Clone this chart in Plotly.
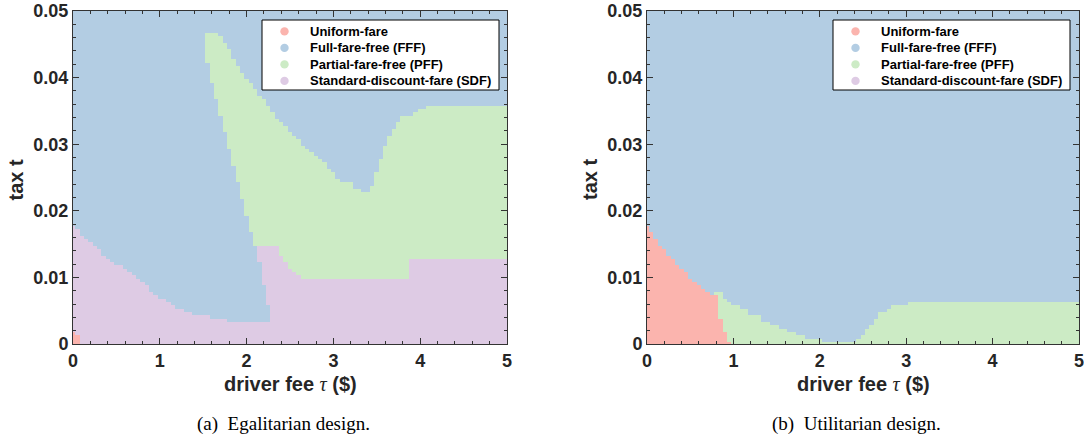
import numpy as np
import plotly.graph_objects as go

# ---------------- data ----------------
CATEGORIES = ["Uniform-fare", "Full-fare-free (FFF)",
              "Partial-fare-free (PFF)", "Standard-discount-fare (SDF)"]
COLORS = ["#FBB4AE", "#B3CDE3", "#CCEBC5", "#DECBE4"]   # UF, FFF, PFF, SDF
CAT_ID = {"UF": 0, "FFF": 1, "PFF": 2, "SDF": 3}

TAU = np.round(np.arange(0, 5.0001, 0.05), 2)       # driver fee grid
TAX = np.round(np.arange(0, 0.05001, 0.0005), 4)    # tax grid

X_TICKS = [0, 1, 2, 3, 4, 5]
X_TICK_TEXT = ["0", "1", "2", "3", "4", "5"]
Y_TICKS = [0, 0.01, 0.02, 0.03, 0.04, 0.05]
Y_TICK_TEXT = ["0", "0.01", "0.02", "0.03", "0.04", "0.05"]

# (a) Egalitarian design: step boundaries (start of fee column, tax level)
EG_UF_X = [0.00, 0.05, 0.10]
EG_UF_Y = [0.0016, 0.0011, 0.0]

EG_SDF_LOW_X = [0.00, 0.05, 0.10, 0.15, 0.20, 0.25, 0.30, 0.35, 0.40, 0.45,
                0.50, 0.60, 0.65, 0.70, 0.75, 0.80, 0.85, 0.90, 0.95, 1.00,
                1.05, 1.10, 1.15, 1.20, 1.30, 1.40, 1.50, 1.60, 1.80, 2.30]
EG_SDF_LOW_Y = [0.0178, 0.0172, 0.0165, 0.0156, 0.0152, 0.0148, 0.0142, 0.0132,
                0.0127, 0.0123, 0.0117, 0.0111, 0.0107, 0.0101, 0.0096, 0.0091,
                0.0086, 0.0080, 0.0075, 0.0070, 0.0066, 0.0061, 0.0056, 0.0052,
                0.0048, 0.0045, 0.0041, 0.0036, 0.0031, 0.0]

EG_FFF_LOW_X = [0.00, 1.55, 1.60, 1.65, 1.70, 1.75, 1.80, 1.85, 1.90, 1.95,
                2.00, 2.05, 2.10, 2.15, 2.20, 2.25, 2.30]
EG_FFF_LOW_Y = [0.0, 0.0423, 0.0393, 0.0367, 0.0342, 0.0317, 0.0292, 0.0267,
                0.0241, 0.0216, 0.0191, 0.0170, 0.0146, 0.0121, 0.0088, 0.0056, 0.0]

EG_SDF_UP_X = [0.00, 2.15, 2.40, 2.45, 2.50, 2.55, 2.60, 2.65, 3.90]
EG_SDF_UP_Y = [0.0, 0.0147, 0.0131, 0.0123, 0.0115, 0.0108, 0.0102, 0.0096, 0.0126]

EG_PFF_TOP_X = [0.00, 1.55, 1.70, 1.75, 1.80, 1.85, 1.90, 1.95, 2.00, 2.05,
                2.10, 2.15, 2.20, 2.25, 2.30, 2.35, 2.40, 2.45, 2.50, 2.55,
                2.60, 2.65, 2.70, 2.75, 2.80, 2.85, 2.90, 2.95, 3.00, 3.05,
                3.10, 3.15, 3.25, 3.35, 3.45, 3.50, 3.55, 3.60, 3.65, 3.70,
                3.75, 3.80, 3.85, 3.95, 4.00, 4.10]
EG_PFF_TOP_Y = [0.0, 0.0466, 0.0461, 0.0452, 0.0441, 0.0427, 0.0417, 0.0407,
                0.0400, 0.0392, 0.0382, 0.0371, 0.0366, 0.0357, 0.0346, 0.0340,
                0.0333, 0.0326, 0.0320, 0.0313, 0.0307, 0.0300, 0.0295, 0.0288,
                0.0281, 0.0277, 0.0271, 0.0263, 0.0258, 0.0250, 0.0245, 0.0241,
                0.0231, 0.0226, 0.0238, 0.0257, 0.0277, 0.0298, 0.0313, 0.0323,
                0.0333, 0.0341, 0.0343, 0.0348, 0.0352, 0.0356]

# (b) Utilitarian design
UT_UF_X = [0.00, 0.05, 0.10, 0.15, 0.20, 0.25, 0.30, 0.35, 0.40, 0.45, 0.50,
           0.55, 0.60, 0.65, 0.70, 0.75, 0.80, 0.85, 0.90, 0.95, 1.00]
UT_UF_Y = [0.0176, 0.0170, 0.0160, 0.0150, 0.0145, 0.0135, 0.0130, 0.0120,
           0.0115, 0.0110, 0.0100, 0.0095, 0.0090, 0.0085, 0.0080, 0.0075,
           0.0071, 0.0040, 0.0020, 0.0005, 0.0]

UT_PFF_TOP_X = [0.00, 0.80, 0.90, 0.95, 1.00, 1.05, 1.10, 1.20, 1.30, 1.35,
                1.45, 1.55, 1.65, 1.75, 1.85, 2.05, 2.45, 2.50, 2.55, 2.60,
                2.65, 2.70, 2.75, 2.80, 2.85, 3.05]
UT_PFF_TOP_Y = [0.0, 0.0076, 0.0070, 0.0065, 0.0060, 0.0056, 0.0051, 0.0045,
                0.0041, 0.0033, 0.0026, 0.00225, 0.0016, 0.0011, 0.0006, 0.0003,
                0.0008, 0.0015, 0.0022, 0.0030, 0.0040, 0.0046, 0.0050, 0.0052,
                0.0056, 0.0061]


def step(xs, ys, x):
    idx = np.searchsorted(np.asarray(xs), x + 1e-9, side="right") - 1
    return np.asarray(ys)[idx]


Y = TAX[:, None]
eg_z = np.select(
    [Y < step(EG_UF_X, EG_UF_Y, TAU),
     Y < step(EG_SDF_LOW_X, EG_SDF_LOW_Y, TAU),
     Y < step(EG_FFF_LOW_X, EG_FFF_LOW_Y, TAU),
     Y < step(EG_SDF_UP_X, EG_SDF_UP_Y, TAU),
     Y < step(EG_PFF_TOP_X, EG_PFF_TOP_Y, TAU)],
    [CAT_ID["UF"], CAT_ID["SDF"], CAT_ID["FFF"], CAT_ID["SDF"], CAT_ID["PFF"]],
    default=CAT_ID["FFF"])

ut_z = np.select(
    [Y < step(UT_UF_X, UT_UF_Y, TAU),
     Y < step(UT_PFF_TOP_X, UT_PFF_TOP_Y, TAU)],
    [CAT_ID["UF"], CAT_ID["PFF"]],
    default=CAT_ID["FFF"])

# ---------------- figure ----------------
W, H = 1084, 442


def px(x):
    return x / W


def py(y):
    return 1 - y / H


colorscale = []
for i, c in enumerate(COLORS):
    colorscale += [[i / 4, c], [(i + 1) / 4, c]]

fig = go.Figure()
for z, xa, ya in [(eg_z, "x", "y"), (ut_z, "x2", "y2")]:
    fig.add_trace(go.Heatmap(x=TAU, y=TAX, z=z, zmin=-0.5, zmax=3.5,
                             colorscale=colorscale, showscale=False,
                             zsmooth=False, xaxis=xa, yaxis=ya,
                             hoverinfo="skip"))

AX = "#333333"
tickfont = dict(family="Liberation Sans, Arial", size=18, color="#262626",
                weight="bold")


def xaxis(domain, anchor):
    return dict(domain=domain, range=[0, 5], tickvals=X_TICKS, anchor=anchor,
                ticktext=X_TICK_TEXT, ticks="inside", ticklen=6, tickwidth=1,
                tickcolor=AX, showline=True, linecolor=AX, linewidth=1,
                mirror="allticks", showgrid=False, zeroline=False,
                tickfont=tickfont, automargin=False, ticklabeloverflow="allow",
                minor=dict(ticks="inside", ticklen=3, dtick=0.2, tick0=0,
                           tickcolor=AX, showgrid=False))


def yaxis(anchor):
    return dict(domain=[py(344), py(11)], range=[0, 0.05],
                tickvals=Y_TICKS, ticktext=Y_TICK_TEXT, ticks="inside",
                ticklen=6, tickwidth=1, tickcolor=AX, showline=True,
                linecolor=AX, linewidth=1, mirror="allticks", showgrid=False,
                zeroline=False, tickfont=tickfont, anchor=anchor,
                automargin=False, ticklabeloverflow="allow",
                minor=dict(ticks="inside", ticklen=3, dtick=0.002, tick0=0,
                           tickcolor=AX, showgrid=False))


fig.update_layout(
    width=W, height=H, margin=dict(l=0, r=0, t=0, b=0, autoexpand=False),
    paper_bgcolor="white", plot_bgcolor="white", showlegend=False,
    xaxis=xaxis([px(73), px(507)], "y"), yaxis=yaxis("x"),
    xaxis2=xaxis([px(647), px(1079)], "y2"), yaxis2=yaxis("x2"),
)

# legends (box, markers, labels) placed at the reference's pixel positions
shapes, annos = [], []
legfont = dict(family="Liberation Sans, Arial", size=13, color="#000000",
               weight="bold")
for box_left in (262, 833):
    box_right = box_left + 237
    shapes.append(dict(type="rect", xref="paper", yref="paper",
                       x0=px(box_left), x1=px(box_right),
                       y0=py(90), y1=py(20),
                       fillcolor="white", line=dict(color="#000000", width=1),
                       layer="above"))
    for k, (name, col) in enumerate(zip(CATEGORIES, COLORS)):
        cy = 31.4 + 16.5 * k
        cx = box_left + 22.5
        r = 4.2
        shapes.append(dict(type="circle", xref="paper", yref="paper",
                           x0=px(cx - r), x1=px(cx + r),
                           y0=py(cy + r), y1=py(cy - r),
                           fillcolor=col, line=dict(width=0), layer="above"))
        annos.append(dict(x=px(box_left + 45.5), y=py(cy),
                          xref="paper", yref="paper", xanchor="left",
                          yanchor="middle", text="<b>" + name + "</b>",
                          showarrow=False, font=legfont))

title_font = dict(family="Liberation Sans, Arial", size=20, color="#262626")
tau = ("<span style=\"font-family:'Liberation Serif';font-style:italic;"
       "font-weight:normal\">τ</span>")
for cx, ty, cap, capx in [(290, 15.5, "(a)  Egalitarian design.", 283.5),
                          (863, 590, "(b)  Utilitarian design.", 856)]:
    annos.append(dict(x=px(cx), y=py(384), xref="paper", yref="paper",
                      xanchor="center", yanchor="middle",
                      text="<b>driver fee </b>" + tau + "<b> ($)</b>",
                      showarrow=False, font=title_font))
    annos.append(dict(x=px(ty), y=py(180), xref="paper", yref="paper",
                      xanchor="center", yanchor="middle",
                      text="<b>tax t</b>", textangle=-90, showarrow=False,
                      font=title_font))
    annos.append(dict(x=px(capx), y=py(424), xref="paper", yref="paper",
                      xanchor="center", yanchor="middle",
                      text=cap, showarrow=False,
                      font=dict(family="Liberation Serif, Times New Roman",
                                size=19, color="#000000")))
fig.update_layout(shapes=shapes, annotations=annos)

# remove the default 8px page margin so the figure fills the window exactly
fig.write_html("out.html",
               config={"displayModeBar": False},
               post_script="document.body.style.margin='0px';"
                           "document.body.style.overflow='hidden';")
